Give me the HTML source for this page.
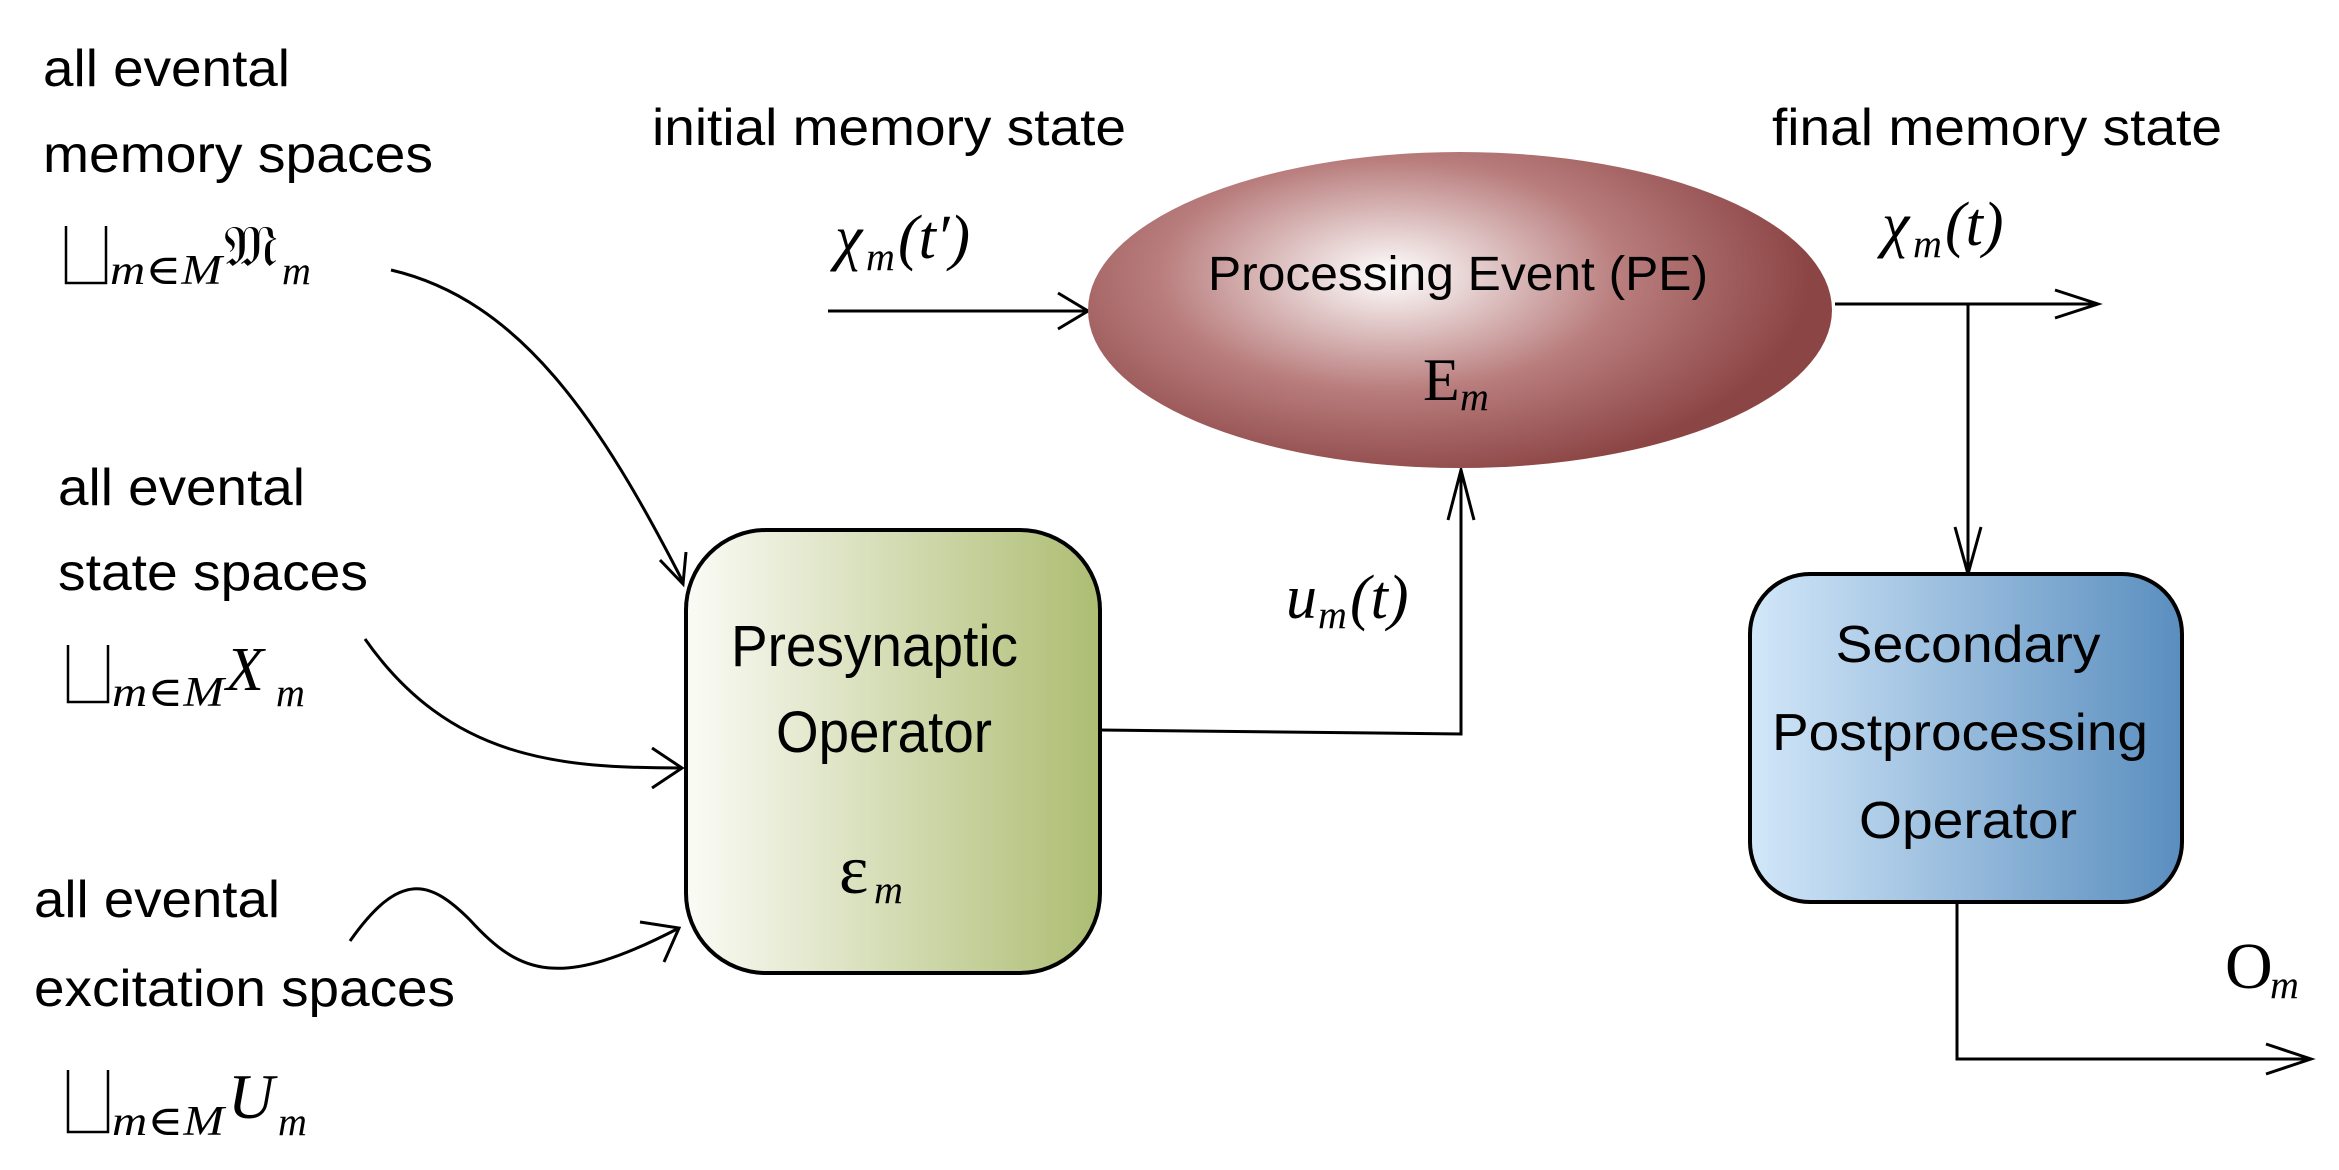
<!DOCTYPE html>
<html><head><meta charset="utf-8"><style>
html,body{margin:0;padding:0;background:#fff;}
svg{display:block;}
.t{font-family:"Liberation Sans",sans-serif;fill:#000;}
.m{font-family:"Liberation Serif","DejaVu Serif",serif;font-style:italic;fill:#000;}
.r{font-family:"Liberation Serif","DejaVu Serif",serif;fill:#000;}
</style></head><body>
<svg width="2339" height="1170" viewBox="0 0 2339 1170" xmlns="http://www.w3.org/2000/svg">
<defs>
<radialGradient id="eg" cx="1390" cy="275" r="420" gradientUnits="userSpaceOnUse" gradientTransform="translate(1390 275) scale(1 0.5) translate(-1390 -275)">
<stop offset="0" stop-color="#ffffff"/><stop offset="0.55" stop-color="#b97d7d"/><stop offset="1" stop-color="#8c4545"/>
</radialGradient>
<linearGradient id="gg" x1="0" x2="1" y1="0" y2="0"><stop offset="0" stop-color="#fbfbf6"/><stop offset="1" stop-color="#adbd72"/></linearGradient>
<linearGradient id="bg" x1="0" x2="1" y1="0" y2="0"><stop offset="0" stop-color="#d2e7f9"/><stop offset="1" stop-color="#5a8ebf"/></linearGradient>
</defs>
<g fill="none" stroke="#000" stroke-width="3">
<path d="M391 270 C520 300 600 420 683 582"/>
<path d="M660 560 L683 584 L686 552"/>
<path d="M365 639 C450 760 560 768 682 768"/>
<path d="M652 748 L682 768 L652 788"/>
<path d="M350 941 C400 870 430 880 470 920 C520 975 560 990 679 928"/>
<path d="M640 922 L679 928 L664 962"/>
<path d="M828 311 L1087 311"/>
<path d="M1058 293 L1088 311 L1058 329"/>
<path d="M1100 730 L1461 734 L1461 470"/>
<path d="M1448 520 L1461 470 L1474 520"/>
<path d="M1835 304 L2098 304"/>
<path d="M2055 290 L2098 304 L2055 318"/>
<path d="M1968 304 L1968 574"/>
<path d="M1955 527 L1968 574 L1981 527"/>
<path d="M1957 902 L1957 1059 L2311 1059"/>
<path d="M2266 1044 L2311 1059 L2266 1074"/>
<!-- coproduct symbols -->
<path d="M66 226 L66 283 L106 283 L106 226" stroke-width="2.5"/>
<path d="M68 645 L68 702 L108 702 L108 645" stroke-width="2.5"/>
<path d="M68 1070 L68 1132 L108 1132 L108 1070" stroke-width="2.5"/>
</g>
<ellipse cx="1460" cy="310" rx="372" ry="158" fill="url(#eg)"/>
<rect x="686" y="530" width="414" height="443" rx="80" fill="url(#gg)" stroke="#000" stroke-width="4"/>
<rect x="1750" y="574" width="432" height="328" rx="60" fill="url(#bg)" stroke="#000" stroke-width="4"/>

<text class="t" x="43" y="86" font-size="52" textLength="247" lengthAdjust="spacingAndGlyphs">all evental</text>
<text class="t" x="43" y="172" font-size="52" textLength="390" lengthAdjust="spacingAndGlyphs">memory spaces</text>
<text class="m" x="110" y="284" font-size="42" textLength="112" lengthAdjust="spacingAndGlyphs">m∈M</text>
<text class="r" x="224" y="266" font-size="58">𝔐</text>
<text class="m" x="282" y="284" font-size="40">m</text>

<text class="t" x="58" y="505" font-size="52" textLength="247" lengthAdjust="spacingAndGlyphs">all evental</text>
<text class="t" x="58" y="590" font-size="52" textLength="310" lengthAdjust="spacingAndGlyphs">state spaces</text>
<text class="m" x="112" y="706" font-size="42" textLength="112" lengthAdjust="spacingAndGlyphs">m∈M</text>
<text class="m" x="226" y="690" font-size="62">X</text>
<text class="m" x="276" y="706" font-size="40">m</text>

<text class="t" x="34" y="917" font-size="52" textLength="246" lengthAdjust="spacingAndGlyphs">all evental</text>
<text class="t" x="34" y="1006" font-size="52" textLength="421" lengthAdjust="spacingAndGlyphs">excitation spaces</text>
<text class="m" x="112" y="1135" font-size="42" textLength="112" lengthAdjust="spacingAndGlyphs">m∈M</text>
<text class="m" x="228" y="1118" font-size="64">U</text>
<text class="m" x="278" y="1135" font-size="40">m</text>

<text class="t" x="652" y="145" font-size="52" textLength="474" lengthAdjust="spacingAndGlyphs">initial memory state</text>
<text class="m" x="835" y="258" font-size="62">χ</text>
<text class="m" x="866" y="270" font-size="40">m</text>
<text class="m" x="898" y="258" font-size="62">(t′)</text>

<text class="t" x="1208" y="290" font-size="48" textLength="500" lengthAdjust="spacingAndGlyphs">Processing Event (PE)</text>
<text class="r" x="1423" y="400" font-size="60">E</text>
<text class="m" x="1460" y="410" font-size="40">m</text>

<text class="t" x="731" y="666" font-size="58" textLength="287" lengthAdjust="spacingAndGlyphs">Presynaptic</text>
<text class="t" x="776" y="752" font-size="58" textLength="216" lengthAdjust="spacingAndGlyphs">Operator</text>
<text class="r" x="839" y="893" font-size="70">ε</text>
<text class="m" x="874" y="903" font-size="40">m</text>

<text class="m" x="1286" y="618" font-size="62">u</text>
<text class="m" x="1318" y="628" font-size="40">m</text>
<text class="m" x="1350" y="618" font-size="62">(t)</text>

<text class="t" x="1772" y="145" font-size="52" textLength="450" lengthAdjust="spacingAndGlyphs">final memory state</text>
<text class="m" x="1882" y="245" font-size="62">χ</text>
<text class="m" x="1913" y="257" font-size="40">m</text>
<text class="m" x="1945" y="245" font-size="62">(t)</text>

<text class="t" x="1968" y="662" font-size="52" text-anchor="middle" textLength="265" lengthAdjust="spacingAndGlyphs">Secondary</text>
<text class="t" x="1772" y="750" font-size="52" textLength="376" lengthAdjust="spacingAndGlyphs">Postprocessing</text>
<text class="t" x="1968" y="838" font-size="52" text-anchor="middle" textLength="218" lengthAdjust="spacingAndGlyphs">Operator</text>

<text class="r" x="2225" y="988" font-size="66">O</text>
<text class="m" x="2270" y="998" font-size="40">m</text>
</svg>
</body></html>
